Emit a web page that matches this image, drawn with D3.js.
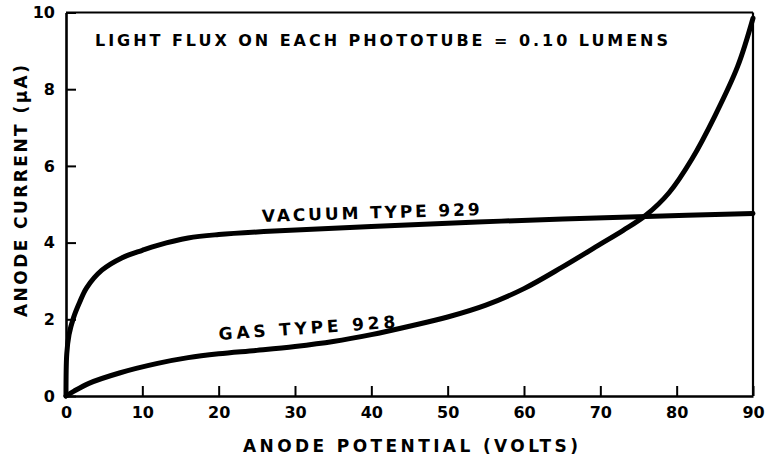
<!DOCTYPE html>
<html>
<head>
<meta charset="utf-8">
<script src="https://cdn.jsdelivr.net/npm/d3@7"></script>
<style>
  html, body { margin: 0; padding: 0; background: #fff; }
  svg { display: block; }
  text { font-family: "DejaVu Sans", "Liberation Sans", Arial, sans-serif; font-weight: bold; fill: #000; }
</style>
</head>
<body>
<svg id="chart" width="772" height="458"></svg>
<script>
// Anode potential (volts) and anode current (µA) for the two phototubes
const vacuumVolts   = [0, 0.1, 0.4, 1.0, 1.8, 2.7, 4.7, 7.3, 10, 12, 16, 20, 28, 40, 57, 76, 90];
const vacuumCurrent = [0, 1.1, 1.6, 2.05, 2.45, 2.82, 3.28, 3.6, 3.8, 3.93, 4.12, 4.21, 4.31, 4.42, 4.56, 4.68, 4.76];

const gasVolts   = [0, 1, 3, 7, 12, 16, 20, 25, 30, 35, 40, 45, 50, 55, 60, 65, 70, 73, 76, 79, 82, 85, 88, 90];
const gasCurrent = [0, 0.12, 0.33, 0.6, 0.85, 1.0, 1.1, 1.19, 1.29, 1.42, 1.6, 1.82, 2.06, 2.37, 2.8, 3.36, 3.96, 4.32, 4.72, 5.3, 6.18, 7.3, 8.6, 9.85];

const xTicks = [0, 10, 20, 30, 40, 50, 60, 70, 80, 90];
const yTicks = [0, 2, 4, 6, 8, 10];

const titleText  = "LIGHT FLUX ON EACH PHOTOTUBE = 0.10 LUMENS";
const xAxisTitle = "ANODE POTENTIAL (VOLTS)";
const yAxisTitle = "ANODE CURRENT (\u03BCA)";
const vacuumLabel = "VACUUM TYPE 929";
const gasLabel    = "GAS TYPE 928";

const svg = d3.select("#chart");

const x = d3.scaleLinear().domain([0, 90]).range([66, 753]);
const y = d3.scaleLinear().domain([0, 10]).range([396, 12.5]);

// Frame: top and right borders
svg.append("line").attr("x1", x(0)).attr("x2", x(90)).attr("y1", y(10)).attr("y2", y(10))
  .attr("stroke", "#000").attr("stroke-width", 2.2);
svg.append("line").attr("x1", x(90)).attr("x2", x(90)).attr("y1", y(10)).attr("y2", y(0))
  .attr("stroke", "#000").attr("stroke-width", 2.2);

// Axes with inward ticks
const xAxis = d3.axisBottom(x).tickValues(xTicks).tickSizeInner(-10).tickSizeOuter(0).tickPadding(11);
const yAxis = d3.axisLeft(y).tickValues(yTicks).tickSizeInner(-10).tickSizeOuter(0).tickPadding(11);

const gx = svg.append("g").attr("transform", `translate(0,${y(0)})`).call(xAxis);
const gy = svg.append("g").attr("transform", `translate(${x(0)},0)`).call(yAxis);

[gx, gy].forEach(g => {
  g.select(".domain").attr("stroke", "#000").attr("stroke-width", 2.6);
  g.selectAll(".tick line").attr("stroke", "#000").attr("stroke-width", 2);
  g.selectAll(".tick text")
    .style("font-family", "'DejaVu Sans', 'Liberation Sans', Arial, sans-serif")
    .style("font-weight", "bold")
    .style("font-size", "16px")
    .attr("fill", "#000");
});

// Curves
const line = d3.line()
  .x(d => x(d[0]))
  .y(d => y(d[1]))
  .curve(d3.curveCatmullRom.alpha(0.5));

const vacuumData = vacuumVolts.map((v, i) => [v, vacuumCurrent[i]]);
const gasData = gasVolts.map((v, i) => [v, gasCurrent[i]]);

svg.append("path").datum(vacuumData).attr("d", line)
  .attr("fill", "none").attr("stroke", "#000").attr("stroke-width", 5)
  .attr("stroke-linecap", "round").attr("stroke-linejoin", "round");
svg.append("path").datum(gasData).attr("d", line)
  .attr("fill", "none").attr("stroke", "#000").attr("stroke-width", 5)
  .attr("stroke-linecap", "round").attr("stroke-linejoin", "round");

// Title inside the plot
svg.append("text")
  .attr("x", 95).attr("y", 46)
  .attr("textLength", 573).attr("lengthAdjust", "spacing")
  .style("font-size", "16px")
  .text(titleText);

// Curve labels
svg.append("text")
  .attr("transform", "translate(262,222) rotate(-1.8)")
  .attr("textLength", 218).attr("lengthAdjust", "spacing")
  .style("font-size", "17px")
  .text(vacuumLabel);

svg.append("text")
  .attr("transform", "translate(219,340) rotate(-4)")
  .attr("textLength", 177).attr("lengthAdjust", "spacing")
  .style("font-size", "17px")
  .text(gasLabel);

// Axis titles
svg.append("text")
  .attr("x", 243).attr("y", 452)
  .attr("textLength", 335).attr("lengthAdjust", "spacing")
  .style("font-size", "17px")
  .text(xAxisTitle);

svg.append("text")
  .attr("transform", "translate(27,191) rotate(-90)")
  .attr("text-anchor", "middle")
  .attr("textLength", 252).attr("lengthAdjust", "spacing")
  .style("font-size", "17px")
  .text(yAxisTitle);
</script>
</body>
</html>
